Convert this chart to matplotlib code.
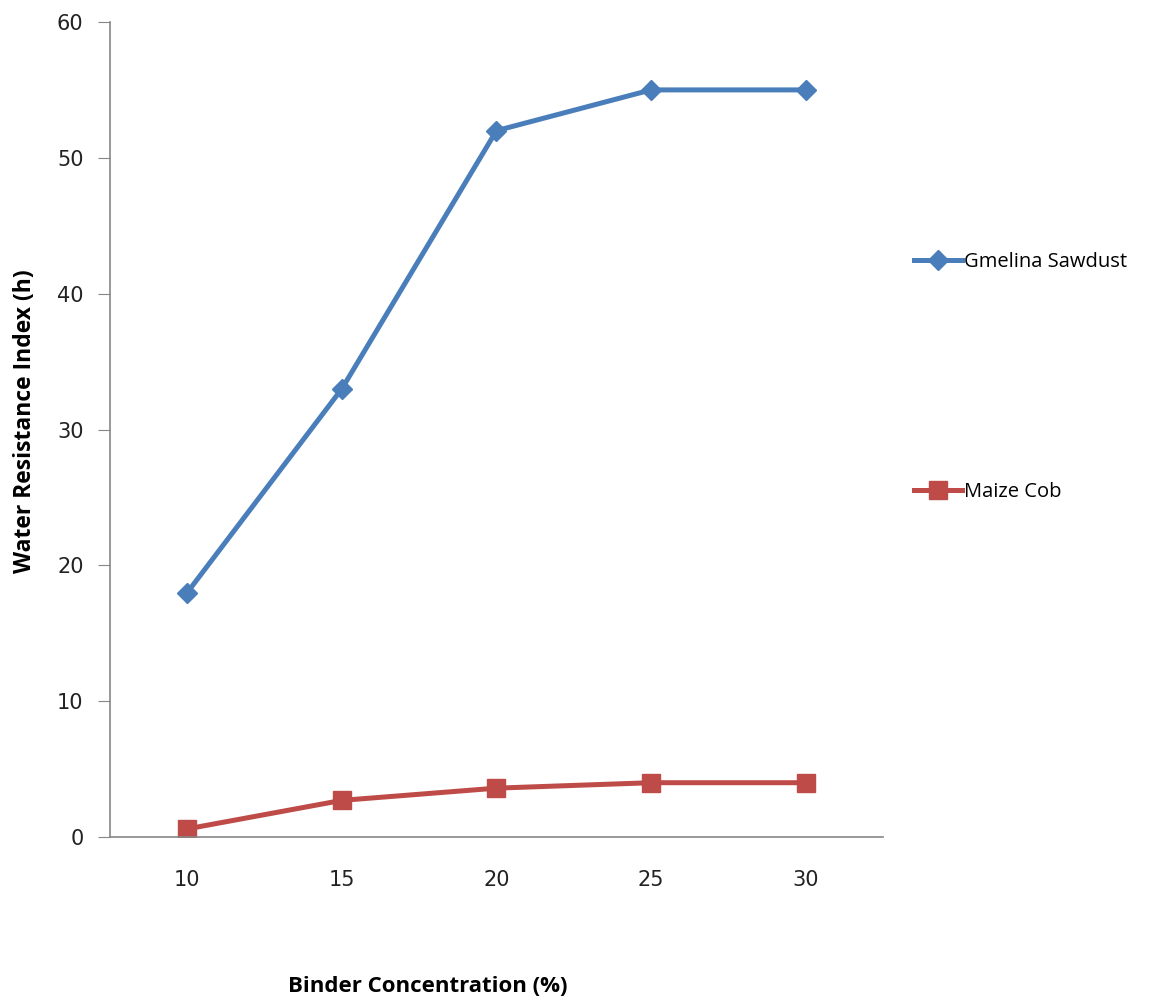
import matplotlib.pyplot as plt
from matplotlib.lines import Line2D

# data
binder = [10, 15, 20, 25, 30]
gmelina = [18, 33, 52, 55, 55]
maize = [0.6, 2.7, 3.6, 4.0, 4.0]

BLUE = '#4A7EBB'
RED = '#BE4B48'
AXIS = '#868686'

fig = plt.figure(figsize=(11.66, 10.08), dpi=100)
ax = fig.add_axes([0.0943, 0.1696, 0.6630, 0.8086])

ax.plot(binder, gmelina, '-D', color=BLUE, lw=3.6, ms=10, label='Gmelina Sawdust')
ax.plot(binder, maize, '-s', color=RED, lw=3.6, ms=13, label='Maize Cob')

ax.set_xlim(7.5, 32.5)
ax.set_ylim(0, 60)
ax.set_xticks(binder)
ax.set_yticks(range(0, 61, 10))

for s in ['top', 'right']:
    ax.spines[s].set_visible(False)
for s in ['left', 'bottom']:
    ax.spines[s].set_color(AXIS)
    ax.spines[s].set_linewidth(1.2)
ax.tick_params(axis='y', colors=AXIS, labelcolor='#222222', labelsize=15, length=9, pad=10)
ax.tick_params(axis='x', length=0, labelcolor='#222222', labelsize=15, pad=24)

ax.set_ylabel('Water Resistance Index (h)', fontsize=16.5, fontweight='bold',
              family='Open Sans')
ax.yaxis.set_label_coords(-0.094, 0.51)
fig.text(0.367, 0.016, 'Binder Concentration (%)', fontsize=16, fontweight='bold',
         family='Open Sans', ha='center', va='baseline')

# legend entries placed on the right side
h1 = Line2D([], [], color=BLUE, lw=3.6, marker='D', ms=10)
h2 = Line2D([], [], color=RED, lw=3.6, marker='s', ms=13)
fig.legend([h1], ['Gmelina Sawdust'], loc='center left', bbox_to_anchor=(0.768, 0.740),
           frameon=False, handlelength=2.4, handletextpad=0.12,
           prop={'family': 'Open Sans', 'size': 14.5})
fig.legend([h2], ['Maize Cob'], loc='center left', bbox_to_anchor=(0.768, 0.512),
           frameon=False, handlelength=2.4, handletextpad=0.12,
           prop={'family': 'Open Sans', 'size': 14.5})

fig.savefig('out.png', dpi=100)
